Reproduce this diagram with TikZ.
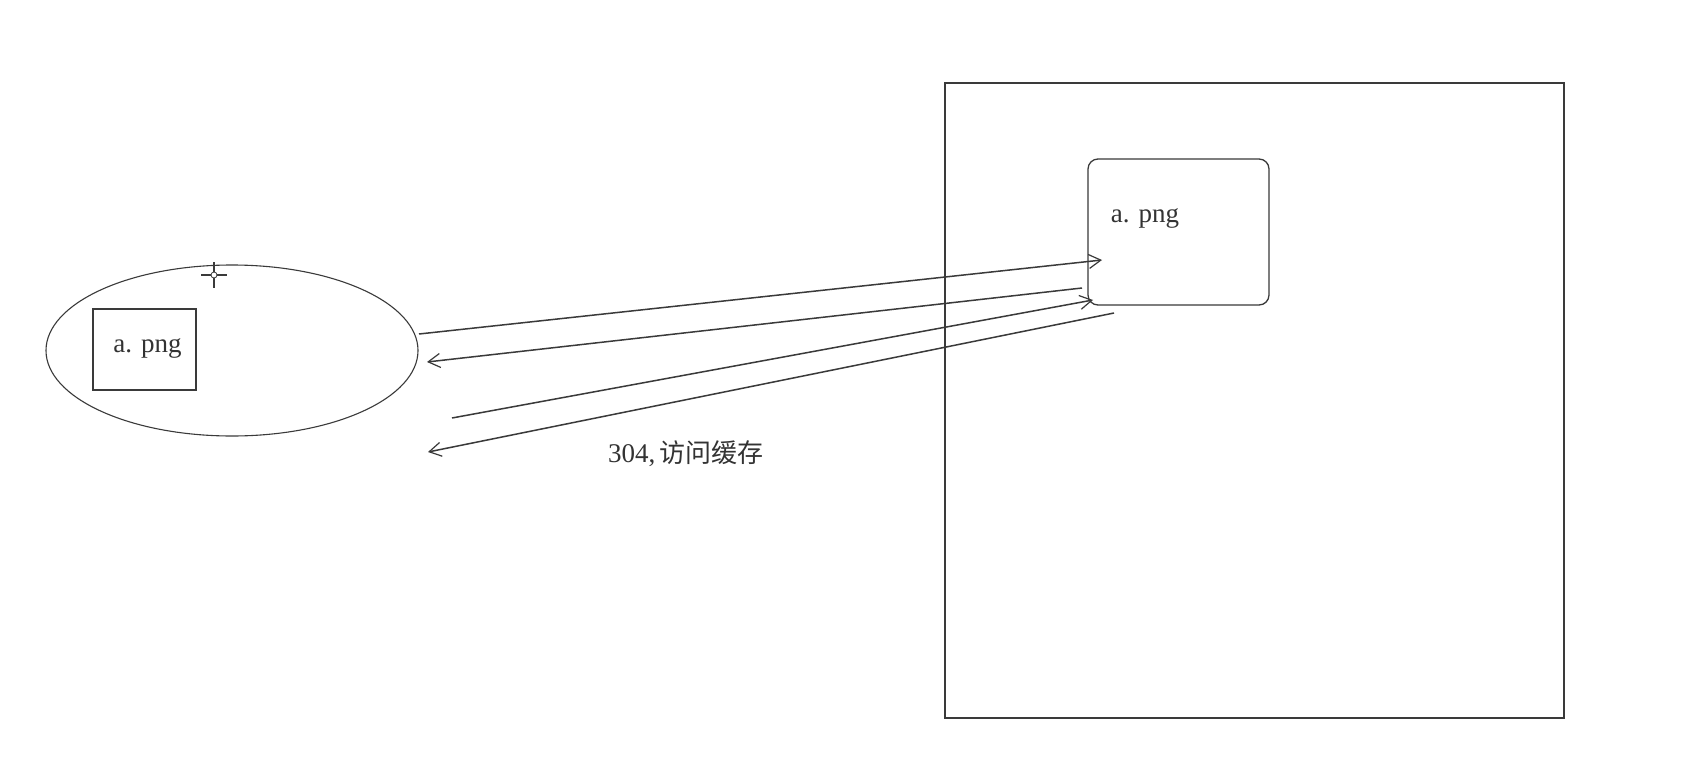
\documentclass[tikz,border=0pt]{standalone}
\usepackage{fontspec}
\setmainfont{Liberation Serif}
\newfontfamily\cjk{Noto Sans CJK SC}
\usetikzlibrary{arrows.meta,shapes.geometric}
\definecolor{ink}{HTML}{3A3A3A}
\definecolor{txt}{HTML}{333333}
\begin{document}
\begin{tikzpicture}[x=1pt,y=-1pt,
  ln/.style={draw=ink, line width=1.3pt},
  conn/.style={draw=ink, line width=1.5pt, -{Straight Barb[length=12pt,width=14pt,line width=1.2pt]}},
  lbl/.style={font=\fontsize{27}{30}\selectfont, text=txt, inner sep=0pt}]
\fill[white] (0,0) rectangle (1681,784);
\useasboundingbox (0,0) rectangle (1681,784);
% client side
\node[ln, ellipse, line width=1.1pt, minimum width=372pt, minimum height=171pt, inner sep=0pt] (client) at (232,350.5) {};
\node[ln, rectangle, minimum width=103pt, minimum height=81pt, inner sep=0pt] (cache) at (144.5,349.5) {};
\node[lbl] (cachetxt) at (147.5,348) {a. png};
% cursor
\draw[ink, line width=1.2pt] (201,275) -- (227,275) (214,262) -- (214,288);
\draw[ink, line width=0.8pt, fill=white] (214,275) circle (3pt);
% server side
\node[ln, rectangle, minimum width=619pt, minimum height=635pt, inner sep=0pt] (server) at (1254.5,400.5) {};
\node[ln, rectangle, rounded corners=10pt, minimum width=181pt, minimum height=146pt, inner sep=0pt] (file) at (1178.5,232) {};
\node[lbl] (filetxt) at (1145,218) {a. png};
% connectors
\coordinate (a1s) at (419,334); \coordinate (a1e) at (1102,260);
\coordinate (a2s) at (1082,288); \coordinate (a2e) at (427,362);
\coordinate (a3s) at (452,418); \coordinate (a3e) at (1093,300);
\coordinate (a4s) at (1114,313); \coordinate (a4e) at (428,452);
\draw[conn] (a1s) -- (a1e);
\draw[conn] (a2s) -- (a2e);
\draw[conn] (a3s) -- (a3e);
\draw[conn] (a4s) -- (a4e);
\node[lbl] (code) at (686,454) {304,\,{\cjk\fontsize{26}{30}\selectfont 访问缓存}};
\end{tikzpicture}
\end{document}
